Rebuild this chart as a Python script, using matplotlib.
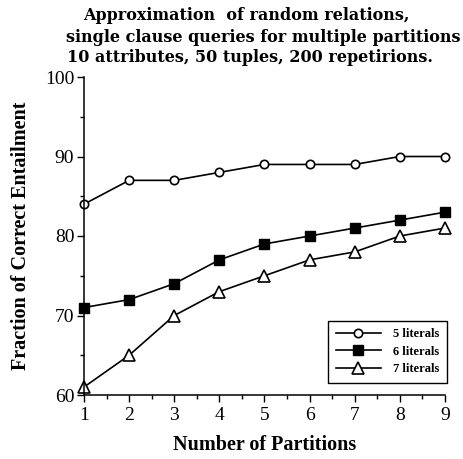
import matplotlib.pyplot as plt
from matplotlib.ticker import MultipleLocator

partitions = [1, 2, 3, 4, 5, 6, 7, 8, 9]
lit5 = [84, 87, 87, 88, 89, 89, 89, 90, 90]
lit6 = [71, 72, 74, 77, 79, 80, 81, 82, 83]
lit7 = [61, 65, 70, 73, 75, 77, 78, 80, 81]

title_lines = ['Approximation  of random relations,',
               'single clause queries for multiple partitions',
               '10 attributes, 50 tuples, 200 repetirions.']

plt.rcParams['font.family'] = 'Liberation Serif'

fig = plt.figure(figsize=(4.64, 4.59), dpi=100)
ax = fig.add_axes([84/464, 1 - 395/459, (445 - 84)/464, (395 - 77)/459])

ax.plot(partitions, lit5, color='black', lw=1.2, marker='o', ms=6,
        mfc='white', mec='black', mew=1.2, label='5 literals')
ax.plot(partitions, lit6, color='black', lw=1.2, marker='s', ms=6.5,
        mfc='black', mec='black', label='6 literals')
ax.plot(partitions, lit7, color='black', lw=1.2, marker='^', ms=8.5,
        mfc='white', mec='black', mew=1.2, label='7 literals')

ax.set_xlim(1, 9)
ax.set_ylim(60, 100)
ax.xaxis.set_major_locator(MultipleLocator(1))
ax.xaxis.set_minor_locator(MultipleLocator(0.5))
ax.yaxis.set_major_locator(MultipleLocator(10))
ax.yaxis.set_minor_locator(MultipleLocator(5))
ax.tick_params(which='major', direction='out', length=5, width=1, labelsize=14)
ax.tick_params(which='minor', direction='out', length=3, width=1)
ax.tick_params(axis='y', pad=2)
ax.spines['top'].set_visible(False)
ax.spines['right'].set_visible(False)
for s in ('left', 'bottom'):
    ax.spines[s].set_linewidth(1.1)
for ln in ax.lines:
    ln.set_clip_on(False)

ax.set_xlabel('Number of Partitions', fontsize=14.5, fontweight='bold', labelpad=8)
ax.set_ylabel('Fraction of Correct Entailment', fontsize=14.5, fontweight='bold', labelpad=10)

leg = ax.legend(loc='lower right', bbox_to_anchor=(1.0055, 0.038), borderaxespad=0,
                fontsize=9, frameon=True, fancybox=False, edgecolor='black', framealpha=1,
                handlelength=3.6, borderpad=0.6, labelspacing=0.45, handletextpad=1.0)
leg.get_frame().set_linewidth(1.0)
for t in leg.get_texts():
    t.set_fontweight('bold')

xs = [83, 66, 67]
ys = [15, 37, 58]
for t, x, y in zip(title_lines, xs, ys):
    fig.text(x/464, 1 - y/459, t, ha='left', va='center', fontsize=11.5,
             fontweight='bold', family='DejaVu Serif')

fig.savefig('out.png', dpi=100)
